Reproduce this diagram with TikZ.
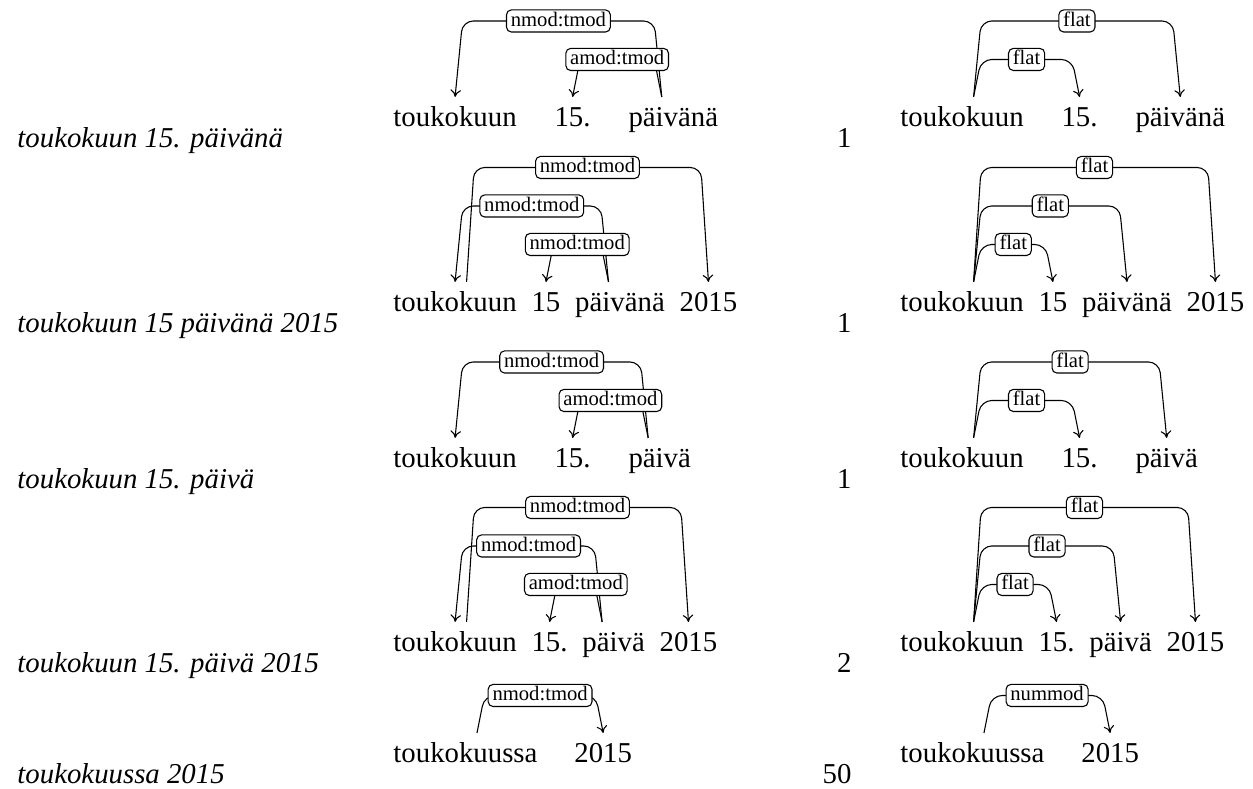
\documentclass[tikz,border=0pt]{standalone}
\usepackage{fontspec}
\setmainfont{Liberation Serif}
\usetikzlibrary{arrows.meta, calc, positioning}

\begin{document}
\begin{tikzpicture}[
    x=0.4167pt, y=-0.4167pt,
    tok/.style={inner xsep=0pt, inner ysep=0pt, text height=11.9pt, text depth=2pt,
        font=\fontsize{12}{14}\selectfont},
    phrase/.style={anchor=base west, inner sep=0pt, font=\fontsize{12}{14}\selectfont\itshape},
    freq/.style={anchor=base east, inner sep=0pt, font=\fontsize{12}{14}\selectfont},
    deparc/.style={-{To[length=3pt,width=4.4pt]}, line width=0.45pt, rounded corners=4.5pt},
    rel/.style={draw, fill=white, rounded corners=2pt, line width=0.45pt,
        inner xsep=1.8pt, inner ysep=0.6pt, text height=6.2pt, text depth=1.8pt,
        font=\fontsize{8.6}{10}\selectfont}
]
\useasboundingbox (0,0) rectangle (1253,789);
%
% phrases and counts
\node[phrase] (p1) at (17,147) {toukokuun 15. päivänä};
\node[phrase] (p2) at (17,332) {toukokuun 15 päivänä 2015};
\node[phrase] (p3) at (17,488) {toukokuun 15. päivä};
\node[phrase] (p4) at (17,672) {toukokuun 15. päivä 2015};
\node[phrase] (p5) at (17,783) {toukokuussa 2015};
\node[freq] (n1) at (852,147) {1};
\node[freq] (n2) at (852,332) {1};
\node[freq] (n3) at (852,488) {1};
\node[freq] (n4) at (852,672) {2};
\node[freq] (n5) at (852,783) {50};

%
% row 1
\node[tok, anchor=base west] (L1a) at (393,126) {toukokuun};
\node[tok, base right=15.4pt of L1a] (L1b) {15.};
\node[tok, base right=15.4pt of L1b] (L1c) {päivänä};
\draw[deparc] ($(L1c.north)+(-11.5,0)$) -- ++(-7.5,-76)
    -- node[rel] {nmod:tmod} ($(L1a.north)+(7.5,-76)$) -- (L1a.north);
\draw[deparc] ($(L1c.north)+(-11.5,0)$) -- ++(-7.5,-37.5)
    -- node[rel] {amod:tmod} ($(L1b.north)+(7.5,-37.5)$) -- (L1b.north);

\node[tok, anchor=base west] (R1a) at (900,126) {toukokuun};
\node[tok, base right=15.4pt of R1a] (R1b) {15.};
\node[tok, base right=15.4pt of R1b] (R1c) {päivänä};
\draw[deparc] ($(R1a.north)+(11.5,0)$) -- ++(7.5,-76)
    -- node[rel] {flat} ($(R1c.north)+(-7.5,-76)$) -- (R1c.north);
\draw[deparc] ($(R1a.north)+(11.5,0)$) -- ++(7.5,-37.5)
    -- node[rel] {flat} ($(R1b.north)+(-7.5,-37.5)$) -- (R1b.north);

%
% row 2
\node[tok, anchor=base west] (L2a) at (393,311) {toukokuun};
\node[tok, base right=5.8pt of L2a] (L2b) {15};
\node[tok, base right=5.8pt of L2b] (L2c) {päivänä};
\node[tok, base right=5.8pt of L2c] (L2d) {2015};
\draw[deparc] ($(L2a.north)+(11.5,0)$) -- ++(7.5,-114.5)
    -- node[rel] {nmod:tmod} ($(L2d.north)+(-7.5,-114.5)$) -- (L2d.north);
\draw[deparc] ($(L2c.north)+(-11.5,0)$) -- ++(-7.5,-76)
    -- node[rel] {nmod:tmod} ($(L2a.north)+(7.5,-76)$) -- (L2a.north);
\draw[deparc] ($(L2c.north)+(-11.5,0)$) -- ++(-7.5,-37.5)
    -- node[rel] {nmod:tmod} ($(L2b.north)+(7.5,-37.5)$) -- (L2b.north);

\node[tok, anchor=base west] (R2a) at (900,311) {toukokuun};
\node[tok, base right=5.8pt of R2a] (R2b) {15};
\node[tok, base right=5.8pt of R2b] (R2c) {päivänä};
\node[tok, base right=5.8pt of R2c] (R2d) {2015};
\draw[deparc] ($(R2a.north)+(11.5,0)$) -- ++(7.5,-114.5)
    -- node[rel] {flat} ($(R2d.north)+(-7.5,-114.5)$) -- (R2d.north);
\draw[deparc] ($(R2a.north)+(11.5,0)$) -- ++(7.5,-76)
    -- node[rel] {flat} ($(R2c.north)+(-7.5,-76)$) -- (R2c.north);
\draw[deparc] ($(R2a.north)+(11.5,0)$) -- ++(7.5,-37.5)
    -- node[rel] {flat} ($(R2b.north)+(-7.5,-37.5)$) -- (R2b.north);

%
% row 3
\node[tok, anchor=base west] (L3a) at (393,467) {toukokuun};
\node[tok, base right=15.4pt of L3a] (L3b) {15.};
\node[tok, base right=15.4pt of L3b] (L3c) {päivä};
\draw[deparc] ($(L3c.north)+(-11.5,0)$) -- ++(-7.5,-76)
    -- node[rel] {nmod:tmod} ($(L3a.north)+(7.5,-76)$) -- (L3a.north);
\draw[deparc] ($(L3c.north)+(-11.5,0)$) -- ++(-7.5,-37.5)
    -- node[rel] {amod:tmod} ($(L3b.north)+(7.5,-37.5)$) -- (L3b.north);

\node[tok, anchor=base west] (R3a) at (900,467) {toukokuun};
\node[tok, base right=15.4pt of R3a] (R3b) {15.};
\node[tok, base right=15.4pt of R3b] (R3c) {päivä};
\draw[deparc] ($(R3a.north)+(11.5,0)$) -- ++(7.5,-76)
    -- node[rel] {flat} ($(R3c.north)+(-7.5,-76)$) -- (R3c.north);
\draw[deparc] ($(R3a.north)+(11.5,0)$) -- ++(7.5,-37.5)
    -- node[rel] {flat} ($(R3b.north)+(-7.5,-37.5)$) -- (R3b.north);

%
% row 4
\node[tok, anchor=base west] (L4a) at (393,651) {toukokuun};
\node[tok, base right=5.8pt of L4a] (L4b) {15.};
\node[tok, base right=5.8pt of L4b] (L4c) {päivä};
\node[tok, base right=5.8pt of L4c] (L4d) {2015};
\draw[deparc] ($(L4a.north)+(11.5,0)$) -- ++(7.5,-114.5)
    -- node[rel] {nmod:tmod} ($(L4d.north)+(-7.5,-114.5)$) -- (L4d.north);
\draw[deparc] ($(L4c.north)+(-11.5,0)$) -- ++(-7.5,-76)
    -- node[rel] {nmod:tmod} ($(L4a.north)+(7.5,-76)$) -- (L4a.north);
\draw[deparc] ($(L4c.north)+(-11.5,0)$) -- ++(-7.5,-37.5)
    -- node[rel] {amod:tmod} ($(L4b.north)+(7.5,-37.5)$) -- (L4b.north);

\node[tok, anchor=base west] (R4a) at (900,651) {toukokuun};
\node[tok, base right=5.8pt of R4a] (R4b) {15.};
\node[tok, base right=5.8pt of R4b] (R4c) {päivä};
\node[tok, base right=5.8pt of R4c] (R4d) {2015};
\draw[deparc] ($(R4a.north)+(11.5,0)$) -- ++(7.5,-114.5)
    -- node[rel] {flat} ($(R4d.north)+(-7.5,-114.5)$) -- (R4d.north);
\draw[deparc] ($(R4a.north)+(11.5,0)$) -- ++(7.5,-76)
    -- node[rel] {flat} ($(R4c.north)+(-7.5,-76)$) -- (R4c.north);
\draw[deparc] ($(R4a.north)+(11.5,0)$) -- ++(7.5,-37.5)
    -- node[rel] {flat} ($(R4b.north)+(-7.5,-37.5)$) -- (R4b.north);

%
% row 5
\node[tok, anchor=base west] (L5a) at (393,762) {toukokuussa};
\node[tok, base right=15pt of L5a] (L5b) {2015};
\draw[deparc] ($(L5a.north)+(11.5,0)$) -- ++(7.5,-37.5)
    -- node[rel] {nmod:tmod} ($(L5b.north)+(-7.5,-37.5)$) -- (L5b.north);

\node[tok, anchor=base west] (R5a) at (900,762) {toukokuussa};
\node[tok, base right=15pt of R5a] (R5b) {2015};
\draw[deparc] ($(R5a.north)+(11.5,0)$) -- ++(7.5,-37.5)
    -- node[rel] {nummod} ($(R5b.north)+(-7.5,-37.5)$) -- (R5b.north);
\end{tikzpicture}
\end{document}
